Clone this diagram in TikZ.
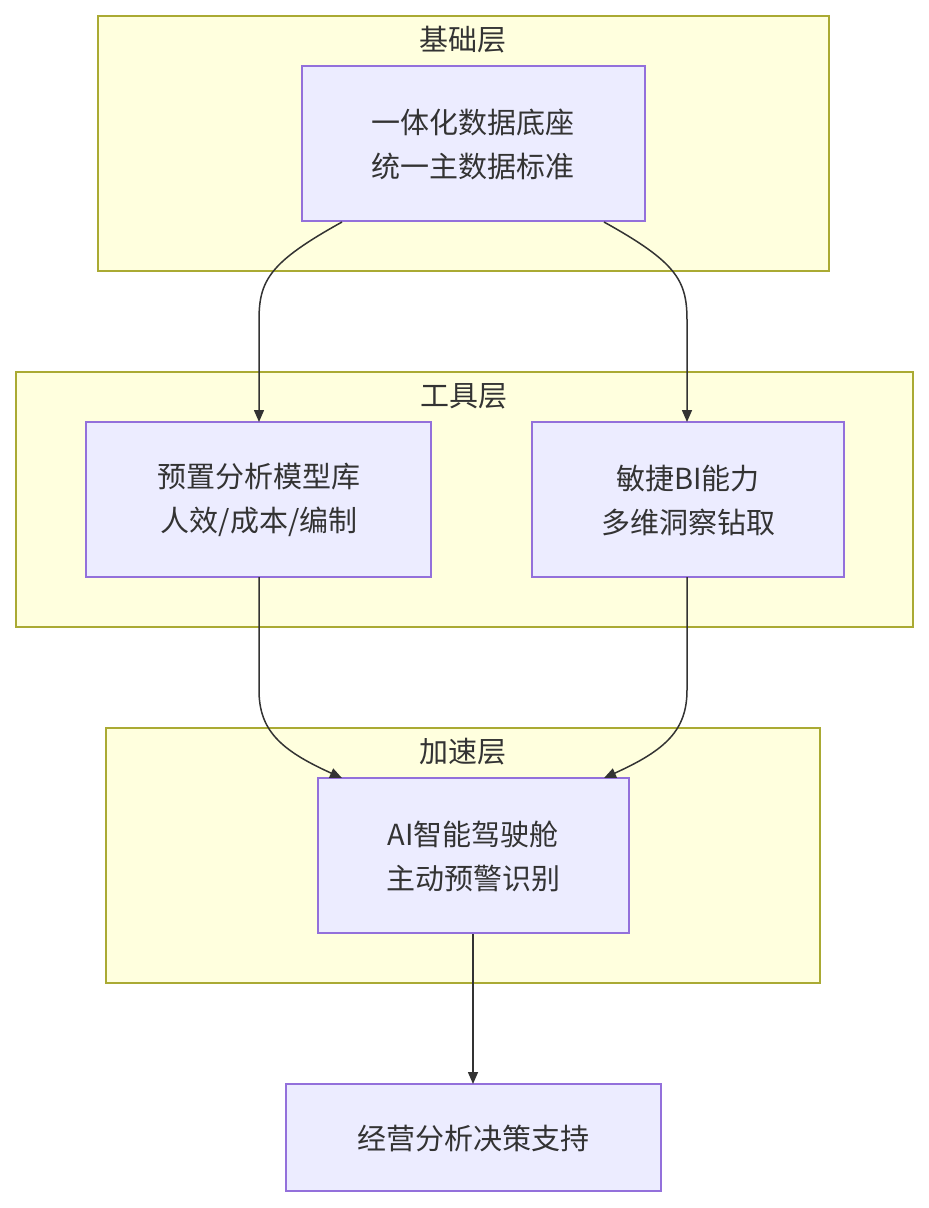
\documentclass[tikz,border=0pt]{standalone}
\usepackage{fontspec}
\setmainfont{Noto Sans CJK SC}
\usetikzlibrary{arrows.meta}
\definecolor{cf}{HTML}{FFFFDE}\definecolor{cs}{HTML}{AAAA33}
\definecolor{nf}{HTML}{ECECFF}\definecolor{ns}{HTML}{9370DB}
\definecolor{tx}{HTML}{333333}
\begin{document}
\begin{tikzpicture}[x=1pt,y=-1pt,
 cl/.style={fill=cf,draw=cs,line width=1.3pt},
 nd/.style={fill=nf,draw=ns,line width=1.3pt},
 lb/.style={text=tx,font=\fontsize{29}{44}\selectfont,align=center},
 ar/.style={draw=tx,line width=1.5pt,-{Triangle[length=12pt,width=10pt]}}]
\useasboundingbox (0,0) rectangle (929,1208);
\draw[cl] (98,16) rectangle (829,271);
\node[lb] (t1) at (463,40) {基础层};
\draw[cl] (16,372) rectangle (913,627);
\node[lb] (t2) at (464,396) {工具层};
\draw[cl] (106,728) rectangle (820,983);
\node[lb] (t3) at (463,752) {加速层};
\draw[nd] (302,66) rectangle (645,221);
\node[lb] (a) at (473,144) {一体化数据底座\\统一主数据标准};
\draw[nd] (86,422) rectangle (431,577);
\node[lb] (b) at (259,500) {预置分析模型库\\人效/成本/编制};
\draw[nd] (532,422) rectangle (844,577);
\node[lb] (c) at (688,500) {敏捷BI能力\\多维洞察钻取};
\draw[nd] (318,778) rectangle (629,933);
\node[lb] (d) at (473,856) {AI智能驾驶舱\\主动预警识别};
\draw[nd] (286,1084) rectangle (661,1191);
\node[lb] (e) at (473,1138) {经营分析决策支持};
\coordinate (a1) at (342,222); \coordinate (a2) at (604,222);
\coordinate (b1) at (259,422); \coordinate (c1) at (687,422);
\coordinate (b2) at (259,577); \coordinate (c2) at (687,577);
\coordinate (d1) at (342,778); \coordinate (d2) at (604,778);
\coordinate (d3) at (473,934); \coordinate (e1) at (473,1084);
\draw[ar] (a1) .. controls (270,262) and (259,280) .. (259,320) -- (b1);
\draw[ar] (a2) .. controls (676,262) and (687,280) .. (687,320) -- (c1);
\draw[ar] (b2) -- (259,690) .. controls (259,730) and (280,750) .. (d1);
\draw[ar] (c2) -- (687,690) .. controls (687,730) and (666,750) .. (d2);
\draw[ar] (d3) -- (e1);
\end{tikzpicture}
\end{document}
